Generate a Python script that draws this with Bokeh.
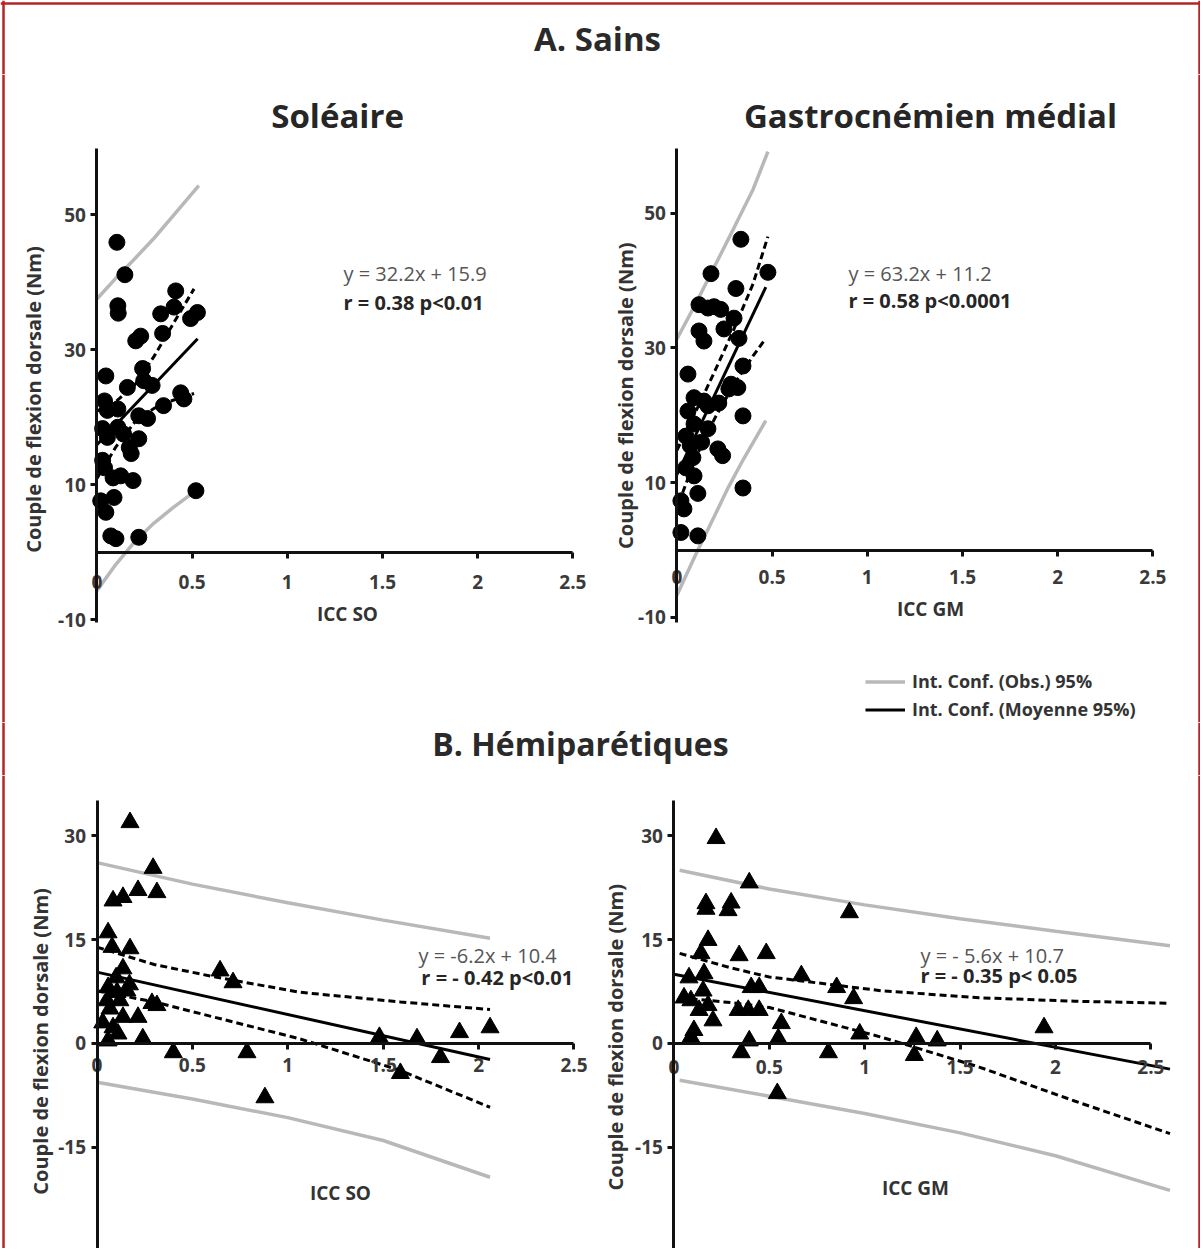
import math
from bokeh.plotting import figure
from bokeh.models import Label, FixedTicker, Range1d, Legend, LegendItem, NumeralTickFormatter, Span
from bokeh.layouts import column, row
from bokeh.embed import file_html
from bokeh.resources import INLINE

# ---------------- data ----------------
# A. Sains - Soleaire (ICC SO)
so_s_x = [0.105, 0.147, 0.11, 0.112, 0.204, 0.23, 0.345, 0.335, 0.414, 0.405, 0.528, 0.492,
          0.047, 0.16, 0.24, 0.246, 0.29, 0.44, 0.457, 0.35, 0.04, 0.055, 0.11, 0.22, 0.266,
          0.11, 0.03, 0.055, 0.14, 0.22, 0.18, 0.17, 0.03, 0.04, 0.085, 0.125, 0.19, 0.09,
          0.02, 0.047, 0.52, 0.073, 0.1, 0.22]
so_s_y = [45.9, 41.1, 36.5, 35.4, 31.3, 32.0, 32.4, 35.3, 38.7, 36.3, 35.5, 34.6,
          26.1, 24.4, 27.2, 25.4, 24.7, 23.6, 22.7, 21.7, 22.4, 21.0, 21.2, 20.2, 19.8,
          18.5, 18.3, 17.0, 17.5, 16.8, 14.6, 15.5, 13.6, 12.5, 11.0, 11.3, 10.6, 8.1,
          7.6, 5.9, 9.1, 2.4, 2.0, 2.2]
so_s_reg_x = [0.0, 0.529]
so_s_reg_y = [15.9, 31.6]
so_s_ci_x = [0.0, 0.1, 0.2, 0.3, 0.4, 0.51]
so_s_ci_hi = [20.9, 22.3, 24.8, 29.0, 33.8, 39.0]
so_s_ci_lo = [10.9, 15.6, 19.3, 21.3, 22.5, 23.5]
so_s_obs_hi_x = [0.0, 0.1, 0.2, 0.3, 0.4, 0.535]
so_s_obs_hi = [37.5, 40.6, 43.5, 46.5, 49.8, 54.3]
so_s_obs_lo_x = [0.0, 0.1, 0.2, 0.3, 0.4, 0.52]
so_s_obs_lo = [-5.7, -1.8, 1.6, 4.3, 6.6, 9.1]

# A. Sains - Gastrocnemien medial (ICC GM)
gm_s_x = [0.336, 0.179, 0.478, 0.31, 0.116, 0.163, 0.195, 0.23, 0.3, 0.116, 0.142, 0.247,
          0.326, 0.058, 0.347, 0.284, 0.32, 0.273, 0.09, 0.142, 0.22, 0.163, 0.058, 0.347,
          0.09, 0.163, 0.047, 0.215, 0.24, 0.084, 0.047, 0.09, 0.11, 0.021, 0.037, 0.347,
          0.021, 0.11, 0.07, 0.13]
gm_s_y = [46.1, 41.0, 41.2, 38.8, 36.4, 35.9, 36.1, 35.7, 34.4, 32.5, 31.0, 32.8,
          31.4, 26.1, 27.3, 24.6, 24.1, 23.9, 22.6, 22.1, 21.8, 21.4, 20.6, 19.9,
          18.7, 18.0, 16.9, 15.0, 14.0, 13.7, 12.2, 11.0, 8.4, 7.3, 6.1, 9.2,
          2.6, 2.1, 15.5, 16.0]
gm_s_reg_x = [0.0, 0.467]
gm_s_reg_y = [11.2, 39.0]
gm_s_ci_hi_x = [0.0, 0.1, 0.2, 0.3, 0.4, 0.478]
gm_s_ci_hi = [14.8, 20.6, 26.6, 32.8, 39.5, 46.5]
gm_s_ci_lo_x = [0.03, 0.1, 0.2, 0.3, 0.4, 0.467]
gm_s_ci_lo = [8.5, 13.8, 19.6, 24.6, 28.8, 31.4]
gm_s_obs_hi_x = [0.0, 0.1, 0.2, 0.3, 0.4, 0.478]
gm_s_obs_hi = [31.3, 36.6, 42.2, 47.8, 53.5, 59.1]
gm_s_obs_lo_x = [0.0, 0.1, 0.2, 0.27, 0.35, 0.467]
gm_s_obs_lo = [-6.7, -0.6, 5.2, 9.3, 13.5, 19.2]

# B. Hemiparetiques - Soleaire
so_h_x = [0.173, 0.294, 0.084, 0.136, 0.215, 0.314, 0.058, 0.079, 0.173, 0.136, 0.645, 0.713,
          0.058, 0.105, 0.157, 0.052, 0.12, 0.068, 0.288, 0.314, 0.215, 0.136, 0.084, 0.11,
          0.058, 0.24, 0.40, 0.786, 0.88, 1.48, 1.677, 1.90, 2.06, 1.80, 1.59, 0.10, 0.03, 0.17]
so_h_y = [31.9, 25.3, 20.6, 21.1, 22.1, 21.8, 16.0, 13.9, 13.7, 10.8, 10.5, 8.8,
          8.1, 7.4, 7.6, 6.2, 6.2, 5.0, 5.8, 5.5, 3.8, 3.8, 2.3, 1.4,
          0.4, 0.7, -1.3, -1.3, -7.8, 0.9, 0.7, 1.6, 2.3, -2.0, -4.3, 9.5, 3.0, 8.5]
so_h_reg_x = [0.0, 2.06]
so_h_reg_y = [10.3, -2.3]
so_h_ci_x = [0.0, 0.3, 0.6, 1.06, 1.59, 2.06]
so_h_ci_hi = [13.9, 11.4, 9.7, 7.4, 6.0, 4.9]
so_h_ci_lo = [7.6, 6.0, 3.9, 0.7, -3.9, -9.2]
so_h_obs_x = [0.0, 0.5, 1.0, 1.5, 2.06]
so_h_obs_hi = [26.1, 23.0, 20.3, 17.8, 15.2]
so_h_obs_lo = [-5.6, -8.0, -10.7, -14.0, -19.3]

# B. Hemiparetiques - Gastrocnemien medial
gm_h_x = [0.221, 0.395, 0.168, 0.168, 0.30, 0.284, 0.92, 0.179, 0.142, 0.342, 0.484, 0.668,
          0.079, 0.158, 0.405, 0.447, 0.853, 0.942, 0.053, 0.089, 0.153, 0.132, 0.179, 0.337,
          0.39, 0.447, 0.205, 0.563, 0.105, 0.089, 0.974, 0.395, 0.547, 0.353, 0.81, 0.542,
          1.27, 1.26, 1.38, 1.94]
gm_h_y = [29.6, 23.2, 20.2, 19.4, 20.3, 19.2, 18.9, 14.9, 13.0, 12.7, 13.0, 9.8,
          9.5, 10.1, 8.1, 8.1, 8.1, 6.5, 6.6, 6.2, 7.6, 4.8, 5.5, 4.8,
          4.8, 4.8, 3.3, 2.9, 1.9, 0.9, 1.4, 0.4, 0.7, -1.3, -1.3, -7.2,
          0.9, -1.7, 0.4, 2.3]
gm_h_reg_x = [0.0, 2.6]
gm_h_reg_y = [10.0, -3.7]
gm_h_ci_x = [0.03, 0.3, 0.5, 1.09, 1.6, 2.1, 2.6]
gm_h_ci_hi = [13.0, 10.9, 9.6, 7.6, 6.6, 6.1, 5.8]
gm_h_ci_lo = [6.6, 5.9, 5.2, 0.9, -3.4, -8.3, -13.0]
gm_h_obs_x = [0.03, 0.5, 1.0, 1.5, 2.0, 2.6]
gm_h_obs_hi = [25.0, 22.3, 20.0, 18.0, 16.2, 14.1]
gm_h_obs_lo = [-5.3, -7.6, -10.1, -12.9, -16.2, -21.2]

x_ticks = [0, 0.5, 1, 1.5, 2, 2.5]
y_ticks_sains = [-10, 10, 30, 50]
y_ticks_hemi = [-15, 0, 15, 30]

# ---------------- styling ----------------
FONT = "Open Sans"
DARK = "#262626"
GRAY_LINE = "#b8b8b8"
FRAME_RED = "#b3252a"
Y_TITLE = "Couple de flexion dorsale (Nm)"


def panel(w, h, xr, yr, ybounds, yticks, x_standoff):
    p = figure(width=w, height=h, x_range=Range1d(*xr), y_range=Range1d(*yr),
               output_backend="svg", toolbar_location=None, title=None, min_border=0)
    p.outline_line_color = None
    p.grid.visible = False
    p.background_fill_color = "white"
    p.border_fill_color = "white"
    for ax in (p.xaxis[0], p.yaxis[0]):
        ax.fixed_location = 0
        ax.axis_line_width = 3
        ax.axis_line_color = "#111111"
        ax.major_tick_line_width = 3
        ax.major_tick_line_color = "#111111"
        ax.major_tick_out = 6
        ax.major_tick_in = 0
        ax.minor_tick_out = 0
        ax.minor_tick_in = 0
        ax.major_label_text_font = FONT
        ax.major_label_text_font_style = "bold"
        ax.major_label_text_font_size = "19px"
        ax.major_label_text_color = "#3a3a3a"
    p.xaxis[0].ticker = FixedTicker(ticks=x_ticks)
    p.xaxis[0].formatter = NumeralTickFormatter(format="0.[0]")
    p.xaxis[0].bounds = (0, 2.5)
    p.xaxis[0].major_label_standoff = x_standoff
    p.yaxis[0].ticker = FixedTicker(ticks=yticks)
    p.yaxis[0].formatter = NumeralTickFormatter(format="0")
    p.yaxis[0].bounds = ybounds
    p.yaxis[0].major_label_standoff = 5
    return p


def add_text(p, x, y, text, size="20px", style="normal", color=DARK, align="left", angle=0.0):
    p.add_layout(Label(x=x, y=y, text=text, text_font=FONT, text_font_size=size,
                       text_font_style=style, text_color=color, text_align=align,
                       text_baseline="middle", angle=angle))


def red_edge(p, loc, dim):
    p.add_layout(Span(location=loc, dimension=dim, line_color=FRAME_RED, line_width=2.5))


def draw(p, pts_x, pts_y, marker, size, reg, ci_hi, ci_lo, obs_hi, obs_lo):
    g1 = p.line(obs_hi[0], obs_hi[1], line_color=GRAY_LINE, line_width=3.5)
    p.line(obs_lo[0], obs_lo[1], line_color=GRAY_LINE, line_width=3.5)
    p.line(ci_hi[0], ci_hi[1], line_color="black", line_width=3, line_dash="7 4")
    p.line(ci_lo[0], ci_lo[1], line_color="black", line_width=3, line_dash="7 4")
    r = p.line(reg[0], reg[1], line_color="black", line_width=3)
    p.scatter(pts_x, pts_y, marker=marker, size=size, fill_color="black", line_color="black")
    return g1, r


def header(text, w, h, cx, cy, size):
    p = figure(width=w, height=h, x_range=Range1d(0, w), y_range=Range1d(0, h),
               output_backend="svg", toolbar_location=None, title=None,
               x_axis_location=None, y_axis_location=None, min_border=0)
    p.outline_line_color = None
    p.grid.visible = False
    p.add_layout(Label(x=cx, y=h - cy, text=text, text_font=FONT, text_font_size=size,
                       text_font_style="bold", text_color="#2a2a2a", text_align="center",
                       text_baseline="middle"))
    red_edge(p, 3, "height")
    red_edge(p, 1199, "height")
    return p


# ---------------- A. Sains ----------------
hA = header("A. Sains", 1200, 74, 597, 38, "33px")
red_edge(hA, 71, "width")

p1 = panel(588, 648, (-0.5063, 2.5819), (-25.24, 70.76), (-10.42, 59.8), y_ticks_sains, 17)
draw(p1, so_s_x, so_s_y, "circle", 16, (so_s_reg_x, so_s_reg_y),
     (so_s_ci_x, so_s_ci_hi), (so_s_ci_x, so_s_ci_lo),
     (so_s_obs_hi_x, so_s_obs_hi), (so_s_obs_lo_x, so_s_obs_lo))
add_text(p1, 1.264, 64.7, "Soléaire", size="33px", style="bold", align="center")
add_text(p1, 1.295, 41.3, "y = 32.2x + 15.9", color="#555555")
add_text(p1, 1.295, 37.0, "r = 0.38 p<0.01", style="bold")
add_text(p1, 1.316, -9.1, "ICC SO", size="19px", style="bold", align="center", color="#333333")
add_text(p1, -0.333, 22.6, Y_TITLE, size="20px", style="bold", align="center",
         color="#333333", angle=math.pi / 2)
red_edge(p1, -0.4905, "height")

p2 = panel(612, 648, (-0.4643, 2.75), (-25.59, 70.55), (-10.76, 59.57), y_ticks_sains, 14)
g_obs, g_reg = draw(p2, gm_s_x, gm_s_y, "circle", 16, (gm_s_reg_x, gm_s_reg_y),
                    (gm_s_ci_hi_x, gm_s_ci_hi), (gm_s_ci_lo_x, gm_s_ci_lo),
                    (gm_s_obs_hi_x, gm_s_obs_hi), (gm_s_obs_lo_x, gm_s_obs_lo))
add_text(p2, 1.332, 64.5, "Gastrocnémien médial", size="33px", style="bold", align="center")
add_text(p2, 0.901, 41.0, "y = 63.2x + 11.2", color="#555555")
add_text(p2, 0.901, 37.0, "r = 0.58 p<0.0001", style="bold")
add_text(p2, 1.332, -8.7, "ICC GM", size="19px", style="bold", align="center", color="#333333")
add_text(p2, -0.27, 22.9, Y_TITLE, size="20px", style="bold", align="center",
         color="#333333", angle=math.pi / 2)
red_edge(p2, 2.7448, "height")

legend = Legend(items=[LegendItem(label="Int. Conf. (Obs.) 95%", renderers=[g_obs]),
                       LegendItem(label="Int. Conf. (Moyenne 95%)", renderers=[g_reg])],
                location=(277, 1))
legend.background_fill_alpha = 0
legend.border_line_color = None
legend.label_text_font = FONT
legend.label_text_font_style = "bold"
legend.label_text_font_size = "18px"
legend.label_text_color = "#333333"
legend.glyph_width = 40
legend.glyph_height = 19
legend.label_height = 19
legend.spacing = 4
legend.padding = 0
legend.margin = 0
legend.label_standoff = 7
p2.add_layout(legend)

# ---------------- B. Hemiparetiques ----------------
hB = header("B. Hémiparétiques", 1200, 53, 580, 21, "32px")

p3 = panel(588, 473, (-0.5058, 2.576), (-29.58, 38.67), (-29.58, 35.06), y_ticks_hemi, 9)
draw(p3, so_h_x, so_h_y, "triangle", 18, (so_h_reg_x, so_h_reg_y),
     (so_h_ci_x, so_h_ci_hi), (so_h_ci_x, so_h_ci_lo),
     (so_h_obs_x, so_h_obs_hi), (so_h_obs_x, so_h_obs_lo))
add_text(p3, 1.685, 12.7, "y = -6.2x + 10.4", color="#555555")
add_text(p3, 1.70, 9.5, "r = - 0.42 p<0.01", style="bold")
add_text(p3, 1.276, -21.6, "ICC SO", size="19px", style="bold", align="center", color="#333333")
add_text(p3, -0.296, 0.3, Y_TITLE, size="20px", style="bold", align="center",
         color="#333333", angle=math.pi / 2)
red_edge(p3, -0.49, "height")

p4 = panel(612, 473, (-0.4476, 2.76), (-29.58, 38.67), (-29.58, 35.06), y_ticks_hemi, 11)
draw(p4, gm_h_x, gm_h_y, "triangle", 18, (gm_h_reg_x, gm_h_reg_y),
     (gm_h_ci_x, gm_h_ci_hi), (gm_h_ci_x, gm_h_ci_lo),
     (gm_h_obs_x, gm_h_obs_hi), (gm_h_obs_x, gm_h_obs_lo))
add_text(p4, 1.292, 12.7, "y = - 5.6x + 10.7", color="#555555")
add_text(p4, 1.292, 9.8, "r = - 0.35 p< 0.05", style="bold")
add_text(p4, 1.266, -20.8, "ICC GM", size="19px", style="bold", align="center", color="#333333")
add_text(p4, -0.306, 0.9, Y_TITLE, size="20px", style="bold", align="center",
         color="#333333", angle=math.pi / 2)
red_edge(p4, 2.7547, "height")

layout = column(hA, row(p1, p2), hB, row(p3, p4))

open("out.html", "w").write(file_html(layout, INLINE))
